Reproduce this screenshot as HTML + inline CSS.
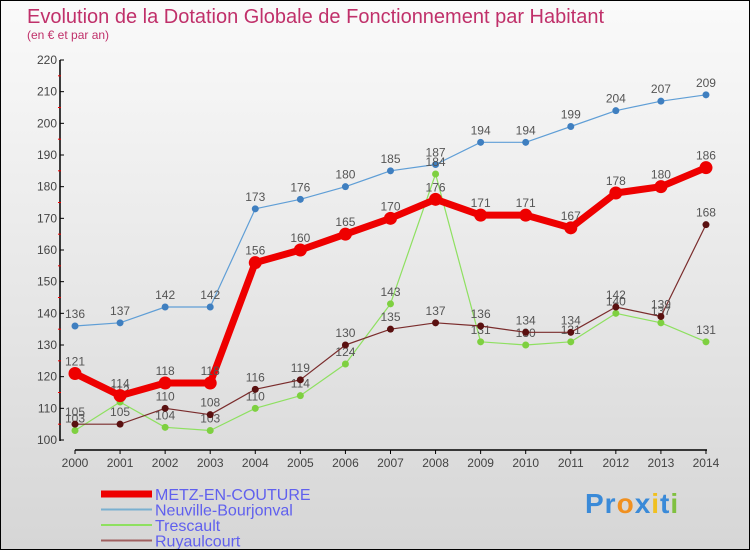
<!DOCTYPE html>
<html><head><meta charset="utf-8"><style>
html,body{margin:0;padding:0}
body{width:750px;height:550px;overflow:hidden;font-family:"Liberation Sans",sans-serif}
#wrap{position:relative;width:748px;height:548px;border:1px solid #000;background:linear-gradient(#fafafa,#d6d6d6)}
</style></head><body>
<div id="wrap">
<svg id="chart" width="748" height="548" style="position:absolute;left:0;top:0">
<text x="26" y="22" font-size="20" fill="#c0306a">Evolution de la Dotation Globale de Fonctionnement par Habitant</text>
<text x="26" y="38" font-size="12" fill="#c0306a">(en € et par an)</text>
<g id="axes"></g><g id="series"></g>
</svg>
</div>
<script>
const years=[2000,2001,2002,2003,2004,2005,2006,2007,2008,2009,2010,2011,2012,2013,2014];
const metz=[121,114,118,118,156,160,165,170,176,171,171,167,178,180,186];
const neuville=[136,137,142,142,173,176,180,185,187,194,194,199,204,207,209];
const trescault=[103,112,104,103,110,114,124,143,184,131,130,131,140,137,131];
const ruyaulcourt=[105,105,110,108,116,119,130,135,137,136,134,134,142,139,168];
const yTicks=[100,110,120,130,140,150,160,170,180,190,200,210,220];
const NS="http://www.w3.org/2000/svg";
const X=i=>74+i*45.07;
const Y=v=>439-(v-100)*3.1667;
function mk(tag,attrs,parent){const e=document.createElementNS(NS,tag);for(const k in attrs)e.setAttribute(k,attrs[k]);parent.appendChild(e);return e;}
const axes=document.getElementById('axes'),ser=document.getElementById('series');
let ya=mk('line',{x1:59,y1:59,x2:59,y2:440,stroke:'#000','stroke-width':1.5},axes);


let xa=mk('line',{x1:74,y1:449,x2:706,y2:449,stroke:'#000','stroke-width':1.5},axes);


yTicks.forEach((t,i)=>{
 mk('line',{x1:59,y1:Y(t),x2:63,y2:Y(t),stroke:'#000'},axes);
 if(i<yTicks.length-1)mk('line',{x1:57,y1:Y(t+5),x2:60,y2:Y(t+5),stroke:'#e00'},axes);
 const tx=mk('text',{x:56,y:Y(t)+4,'font-size':12,fill:'#444','text-anchor':'end'},axes);tx.textContent=t;
 
 
});
years.forEach((yr,i)=>{
 mk('line',{x1:X(i),y1:449,x2:X(i),y2:453,stroke:'#000'},axes);
 const tx=mk('text',{x:X(i),y:466,'font-size':12,fill:'#444','text-anchor':'middle'},axes);tx.textContent=yr;
 
 
});
function series(vals,color,dot,w,r,name){
 const g=mk('g',{},ser);
 
 
 mk('polyline',{points:vals.map((v,i)=>X(i)+','+Y(v)).join(' '),fill:'none',stroke:color,'stroke-width':w,'stroke-linejoin':'round'},g);
 vals.forEach((v,i)=>{
  const c=mk('circle',{cx:X(i),cy:Y(v),r:r,fill:dot},g);
  
  
  const t=mk('text',{x:X(i),y:Y(v)-8,'font-size':12,fill:'#555','text-anchor':'middle'},g);t.textContent=v;
 });
}
series(neuville,'#5f9ed6','#3f7fc0',1.2,3.5,'series-neuville');
series(trescault,'#8ee060','#7ed040',1.2,3.5,'series-trescault');
series(ruyaulcourt,'#7a2c2c','#5a1010',1.2,3.5,'series-ruyaulcourt');
series(metz,'#ee0000','#ee0000',7,6.5,'series-metz');
const leg=[['METZ-EN-COUTURE','#ee0000',7],['Neuville-Bourjonval','#7ab0d0',2],['Trescault','#8ee060',2],['Ruyaulcourt','#a06060',2]];
leg.forEach((l,i)=>{
 const y=493+i*15.5;
 const g=mk('g',{},axes);
 
 
 mk('line',{x1:100,y1:y,x2:151,y2:y,stroke:l[1],'stroke-width':l[2]},g);
 const t=mk('text',{x:154,y:y+6,'font-size':16,fill:'#6060ee'},g);t.textContent=l[0];
});
</script>
<div style="position:absolute;left:585px;top:488px;font:bold 28px 'Liberation Sans',sans-serif;letter-spacing:1px"><span style="color:#3a8ad8">Pr</span><span style="color:#f09020">o</span><span style="color:#3a8ad8">x</span><span style="color:#f0c020">i</span><span style="color:#3a8ad8">t</span><span style="color:#80c040">i</span></div>
</body></html>
